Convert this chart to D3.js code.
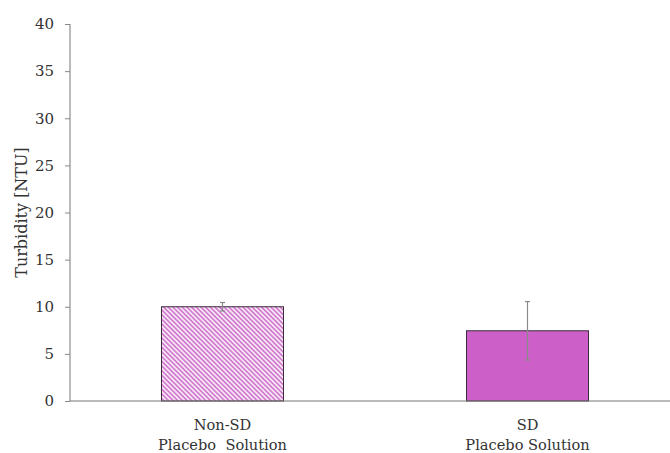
<!DOCTYPE html>
<html><head><meta charset="utf-8">
<script src="https://cdn.jsdelivr.net/npm/d3@7"></script>
<style>body{margin:0;background:#fff}svg{display:block}</style>
</head><body><svg id="c" width="670" height="453"></svg>
<script>
const FONT = '"DejaVu Serif","Liberation Serif","Times New Roman",serif';
const categories = ["Non-SD\nPlacebo  Solution", "SD\nPlacebo Solution"];
const values = [10.0, 7.45];
const errors = [0.45, 3.1];
const yTicks = [0, 5, 10, 15, 20, 25, 30, 35, 40];

const svg = d3.select("#c");
const x = d3.scaleBand().domain(categories).range([70, 680]).paddingInner(0.6).paddingOuter(0.3);
const y = d3.scaleLinear().domain([0, 40]).range([401, 24]);

const defs = svg.append("defs");
const P = 3.3;
const pat = defs.append("pattern").attr("id", "hatch").attr("patternUnits", "userSpaceOnUse")
  .attr("width", P).attr("height", P).attr("patternTransform", "rotate(-45)");
pat.append("rect").attr("width", P).attr("height", P).attr("fill", "#f8e6f7");
pat.append("rect").attr("width", P / 2).attr("height", P).attr("fill", "#d27ccf");

// y axis
const yAxis = svg.append("g").attr("transform", "translate(70,0)")
  .call(d3.axisLeft(y).tickValues(yTicks).tickSize(5).tickPadding(11).tickFormat(d3.format("d")));
yAxis.attr("font-family", FONT).attr("font-size", 15);
yAxis.select(".domain").attr("stroke", "#777").attr("d", `M0,${y(0)}V${y(40)}`);
yAxis.selectAll(".tick line").attr("stroke", "#888");
yAxis.selectAll(".tick text").attr("fill", "#333");

svg.append("text").attr("transform", `translate(27,${(y(0)+y(40))/2}) rotate(-90)`)
  .attr("text-anchor", "middle").attr("font-family", FONT).attr("font-size", 16).attr("fill", "#333").text("Turbidity [NTU]");

// bars
svg.selectAll(".bar").data(categories).join("rect")
  .attr("x", d => x(d)).attr("width", x.bandwidth())
  .attr("y", (d, i) => y(values[i])).attr("height", (d, i) => y(0) - y(values[i]))
  .attr("fill", (d, i) => i === 0 ? "url(#hatch)" : "#cc5fc8")
  .attr("stroke", "#3b2b3b").attr("stroke-width", 1);

// x axis line
svg.append("line").attr("x1", 70).attr("x2", 670).attr("y1", y(0)).attr("y2", y(0)).attr("stroke", "#777").attr("stroke-width", 1.2);

// error bars
categories.forEach((c, i) => {
  const cx = x(c) + x.bandwidth() / 2;
  const g = svg.append("g").attr("stroke", "#8a8a8a").attr("stroke-width", 1.2);
  g.append("line").attr("x1", cx).attr("x2", cx).attr("y1", y(values[i] + errors[i])).attr("y2", y(values[i] - errors[i]));
  g.append("line").attr("x1", cx - 2.5).attr("x2", cx + 2.5).attr("y1", y(values[i] + errors[i])).attr("y2", y(values[i] + errors[i]));
  g.append("line").attr("x1", cx - 2.5).attr("x2", cx + 2.5).attr("y1", y(values[i] - errors[i])).attr("y2", y(values[i] - errors[i]));
});

// category labels
categories.forEach(c => {
  const cx = x(c) + x.bandwidth() / 2;
  const t = svg.append("text").attr("text-anchor", "middle").attr("font-family", FONT).attr("font-size", 14.6).attr("fill", "#333").attr("xml:space", "preserve").style("white-space", "pre");
  c.split("\n").forEach((line, j) => {
    t.append("tspan").attr("x", cx).attr("y", 429.5 + j * 20).text(line);
  });
});
</script></body></html>
